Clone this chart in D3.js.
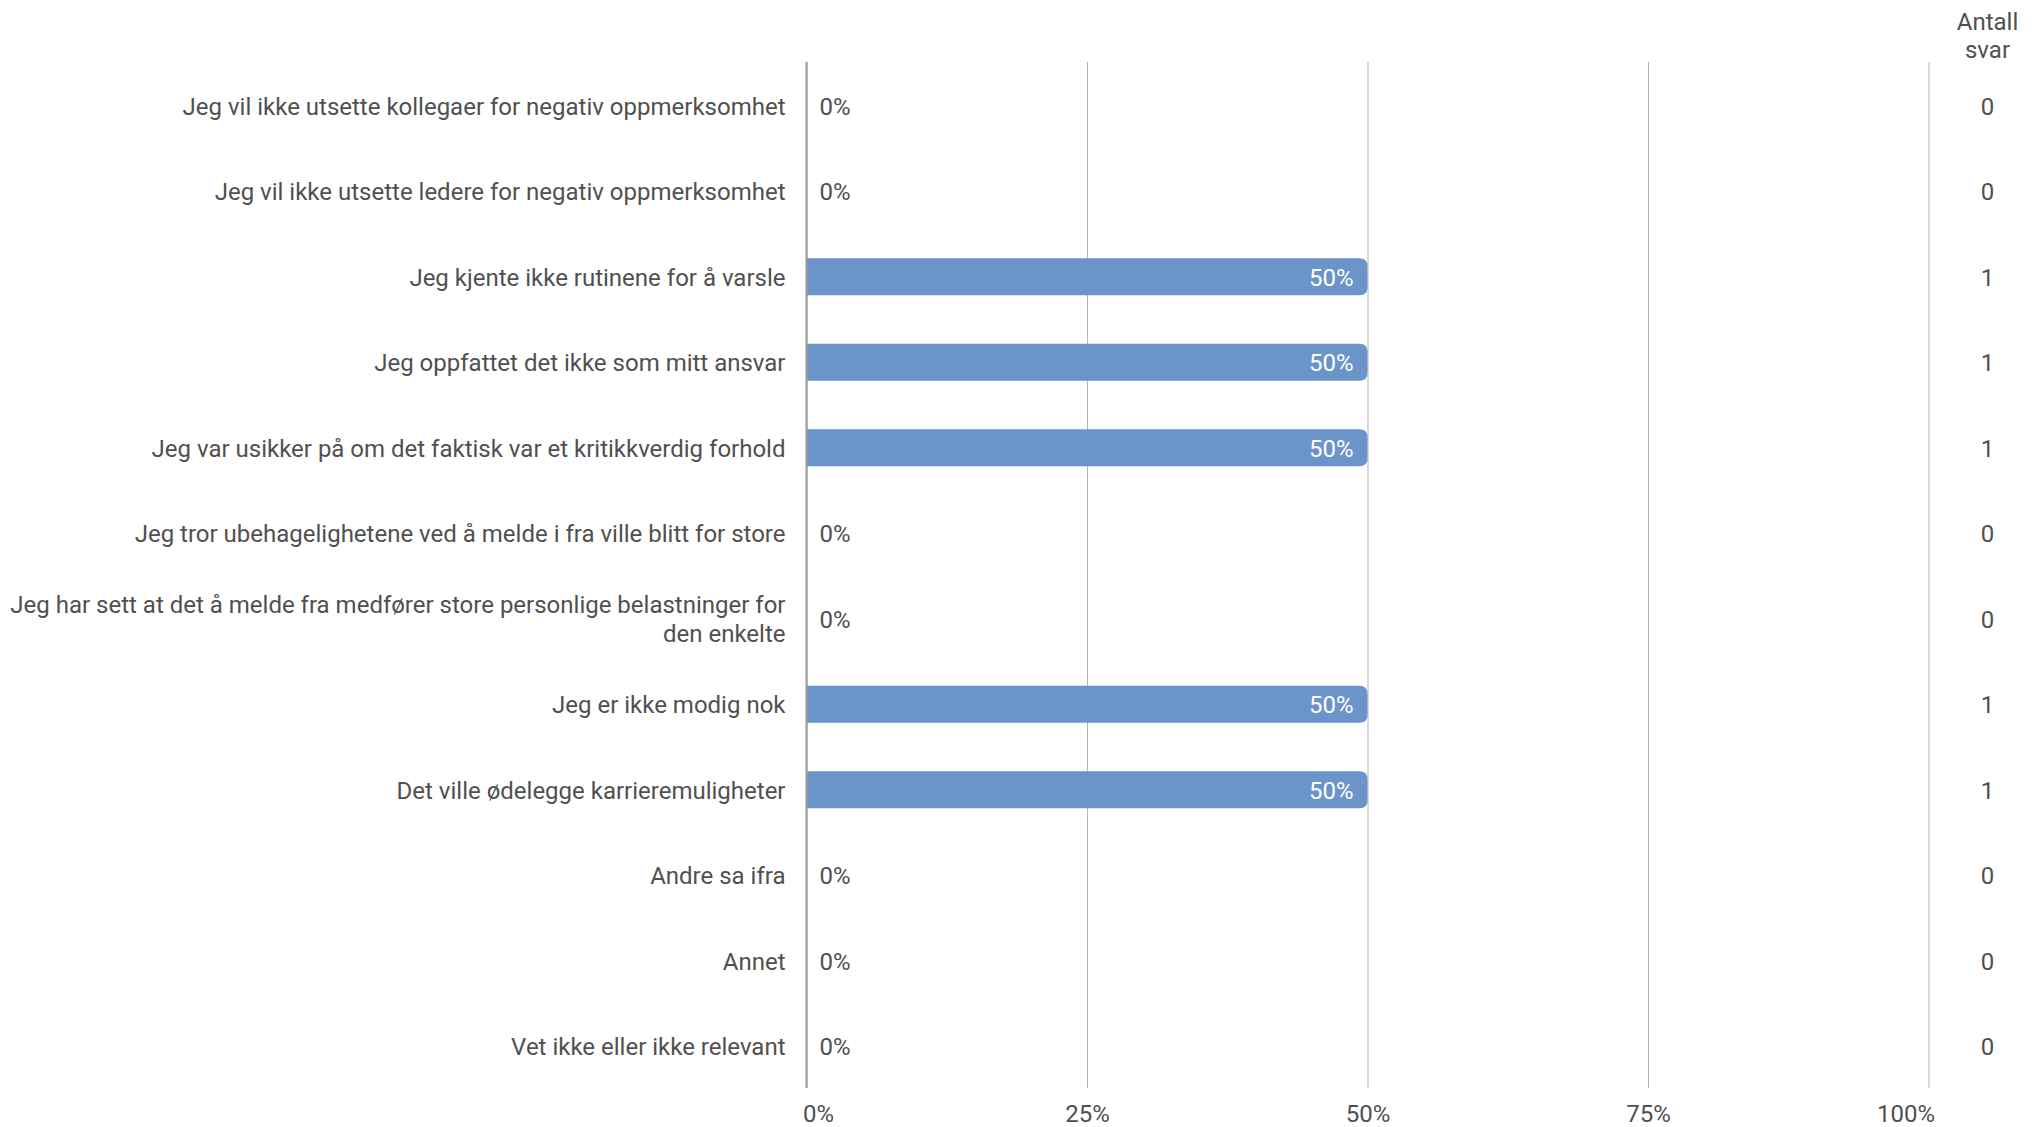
<!DOCTYPE html>
<html>
<head>
<meta charset="utf-8">
<script src="https://cdn.jsdelivr.net/npm/d3@7"></script>
<style>
  body { margin: 0; background: #fff; }
  text { font-family: Roboto, "Noto Sans", sans-serif; }
</style>
</head>
<body>
<script>
var categories = [
  "Jeg vil ikke utsette kollegaer for negativ oppmerksomhet",
  "Jeg vil ikke utsette ledere for negativ oppmerksomhet",
  "Jeg kjente ikke rutinene for å varsle",
  "Jeg oppfattet det ikke som mitt ansvar",
  "Jeg var usikker på om det faktisk var et kritikkverdig forhold",
  "Jeg tror ubehagelighetene ved å melde i fra ville blitt for store",
  "Jeg har sett at det å melde fra medfører store personlige belastninger for den enkelte",
  "Jeg er ikke modig nok",
  "Det ville ødelegge karrieremuligheter",
  "Andre sa ifra",
  "Annet",
  "Vet ikke eller ikke relevant"
];
var percents = [0, 0, 50, 50, 50, 0, 0, 50, 50, 0, 0, 0];
var counts = [0, 0, 1, 1, 1, 0, 0, 1, 1, 0, 0, 0];
var xTicks = [0, 25, 50, 75, 100];
var countHeader = ["Antall", "svar"];

var width = 2039, height = 1127;
var margin = { top: 62, left: 806.5, right: 110.5, bottom: 39 };
var innerW = width - margin.left - margin.right,
    innerH = height - margin.top - margin.bottom;

var textColor = "#505050";
var fs = 24;
var shift = 1.5; // text sits a little below band centre

var svg = d3.select("body").append("svg")
    .attr("width", width)
    .attr("height", height);

var g = svg.append("g")
    .attr("transform", "translate(" + margin.left + "," + margin.top + ")");

var x = d3.scaleLinear().domain([0, 100]).range([0, innerW]);
var y = d3.scaleBand().domain(categories).range([0, innerH]).paddingInner(0.567).paddingOuter(0.567 / 2);

// gridlines
g.append("g")
    .attr("class", "grid")
    .call(d3.axisBottom(x).tickValues(xTicks).tickSize(innerH).tickFormat(""))
    .call(function (s) {
      s.select(".domain").remove();
      s.selectAll(".tick line").attr("stroke", "#b3b3b3").attr("stroke-width", 1);
    });

// bars (rounded right end)
var r = 8, bh = y.bandwidth();
g.selectAll("path.bar")
  .data(categories.filter(function (c, i) { return percents[i] > 0; }))
  .enter().append("path")
    .attr("class", "bar")
    .attr("fill", "#6b94c8")
    .attr("d", function (c) {
      var i = categories.indexOf(c);
      var w = x(percents[i]), y0 = y(c) + 1;
      return "M0," + y0 + "H" + (w - r) + "Q" + w + "," + y0 + " " + w + "," + (y0 + r) +
        "V" + (y0 + bh - r) + "Q" + w + "," + (y0 + bh) + " " + (w - r) + "," + (y0 + bh) +
        "H0Z";
    });

// axis line at 0
g.append("line")
    .attr("x1", x(0)).attr("x2", x(0))
    .attr("y1", 0).attr("y2", innerH)
    .attr("stroke", "#9a9a9a").attr("stroke-width", 2);

// value labels
g.selectAll("text.val")
  .data(categories)
  .enter().append("text")
    .attr("class", "val")
    .attr("y", function (c) { return y(c) + bh / 2 + shift; })
    .attr("dy", "0.35em")
    .attr("font-size", fs)
    .each(function (c, i) {
      var t = d3.select(this), p = percents[i];
      if (p > 0) {
        t.attr("x", x(p) - 14).attr("text-anchor", "end").attr("fill", "#fff").text(p + "%");
      } else {
        t.attr("x", x(0) + 13).attr("text-anchor", "start").attr("fill", textColor).text(p + "%");
      }
    });

// category labels
var yAxis = g.append("g")
    .attr("transform", "translate(0," + shift + ")")
    .call(d3.axisLeft(y).tickSize(0).tickPadding(21))
    .call(function (s) { s.select(".domain").remove(); });
yAxis.selectAll(".tick text")
    .attr("font-size", fs)
    .attr("fill", textColor)
    .call(wrap, 785);

function wrap(texts, maxW) {
  texts.each(function () {
    var t = d3.select(this), words = t.text().split(/\s+/), lines = [], line = [];
    var xPos = t.attr("x");
    t.text(null);
    var tspan = t.append("tspan");
    words.forEach(function (w) {
      line.push(w);
      tspan.text(line.join(" "));
      if (tspan.node().getComputedTextLength() > maxW && line.length > 1) {
        line.pop();
        lines.push(line.join(" "));
        line = [w];
      }
      tspan.text(line.join(" "));
    });
    lines.push(line.join(" "));
    t.text(null);
    var lh = 29, off = -(lines.length - 1) * lh / 2;
    lines.forEach(function (l, k) {
      t.append("tspan").attr("x", xPos).attr("dy", k === 0 ? off + 0.35 * fs + "px" : lh + "px").text(l);
    });
    t.attr("dy", null);
  });
}

// bottom tick labels
var xAxis = g.append("g")
    .attr("transform", "translate(0," + innerH + ")")
    .call(d3.axisBottom(x).tickValues(xTicks).tickSize(0).tickPadding(17).tickFormat(function (d) { return d + "%"; }))
    .call(function (s) { s.select(".domain").remove(); });
xAxis.selectAll(".tick text")
    .attr("font-size", fs)
    .attr("fill", textColor)
    .attr("text-anchor", function (d, i) { return i === 0 ? "start" : (i === xTicks.length - 1 ? "end" : "middle"); })
    .attr("x", function (d, i) { return i === 0 ? -4 : (i === xTicks.length - 1 ? 6 : 0); });

// count column
var cx = 1987.5;
svg.selectAll("text.head")
  .data(countHeader)
  .enter().append("text")
    .attr("class", "head")
    .attr("x", cx)
    .attr("y", function (d, i) { return 22 + i * 28; })
    .attr("dy", "0.35em")
    .attr("text-anchor", "middle")
    .attr("font-size", fs)
    .attr("fill", textColor)
    .text(function (d) { return d; });

g.selectAll("text.count")
  .data(categories)
  .enter().append("text")
    .attr("class", "count")
    .attr("x", cx - margin.left)
    .attr("y", function (c) { return y(c) + bh / 2 + shift; })
    .attr("dy", "0.35em")
    .attr("text-anchor", "middle")
    .attr("font-size", fs)
    .attr("fill", textColor)
    .text(function (c, i) { return counts[i]; });
</script>
</body>
</html>
